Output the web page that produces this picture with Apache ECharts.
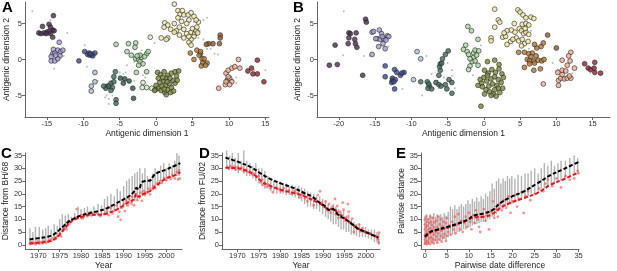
<!DOCTYPE html>
<html>
<head>
<meta charset="utf-8">
<script src="https://cdn.jsdelivr.net/npm/echarts@6/dist/echarts.min.js"></script>
<style>
  html, body { margin: 0; padding: 0; background: #fff; }
  #main { width: 617px; height: 271px; }
</style>
</head>
<body>
<div id="main"></div>
<script>
// antigenic maps (A, B): one array per cluster
var aHK68 = [[-14.1,6.1],[-15.6,4.6],[-14.7,4.9],[-14.5,4.5],[-16.1,3.7],[-15.8,3.6],[-15.4,3.7],[-15,3.8],[-14.2,4.1],[-14,4],[-14.5,3.6],[-14.2,3.1],[-14.7,3.9],[-15.1,3.6]];
var aEN72 = [[-13.3,2.4],[-14.1,1.4],[-13.5,1.3],[-13.1,1.1],[-14.2,0.8],[-13.9,0.9],[-14.4,0.4],[-13.2,0.5],[-14.4,-0.2],[-13.9,-0.2],[-13.5,0.1],[-12.8,1.3],[-13.8,0.6]];
var aVI75 = [[-10.6,-0.2],[-9.8,1.1],[-9.4,0.7],[-9.1,0.6],[-8.8,0.7],[-8.4,0.9],[-9.2,0.9],[-8.7,0.5],[-9,0.8]];
var aTX77 = [[-8.4,-1.8],[-8.9,-3.7],[-8.9,-4.4],[-8.4,-3.1]];
var aBK79 = [[-6.7,-3.7],[-6.9,-4],[-6.2,-3.3],[-5.8,-3.1],[-5.6,-1.7],[-5.8,-2.4],[-6,-3.9],[-6.2,-4.3],[-5.5,-5.6],[-5.5,-6.1],[-6.5,-3.7],[-7.2,-3.7]];
var aSI87 = [[-4.9,-2.6],[-4.3,-2.7],[-3.7,-3],[-3.1,-5.4],[-3.2,-4],[-4.5,-3.3]];
var aBE89 = [[-5.5,2.1],[-3.8,2.2],[-2.8,2.3],[-2.9,1.7],[-4,1.1],[-3.4,0.6],[-2.8,0.1],[-2.4,0],[-2,0.3],[-1.3,0.8],[-1.1,1.1],[-2.2,-0.3],[-1.8,-0.6],[-2.4,-0.8],[-1.3,-1.7],[-2.7,-1.8],[-2.2,0.6],[-2.6,0.5],[-1.6,0.4]];
var aBE92 = [[-1.8,-3.2],[-1.3,-3.9],[-1.9,-3.9],[-0.6,-4],[-0.8,3.1]];
var aWU95 = [[0.2,-1.8],[0.6,-2.1],[1.1,-1.7],[1.6,-2.2],[2.1,-1.9],[2.6,-1.7],[3.1,-1.6],[1.4,-2.6],[1,-3],[0.5,-3.2],[0,-3.6],[0.3,-4],[0.7,-4.3],[1.2,-4.6],[1.6,-4.2],[2.1,-3.9],[2.6,-3.3],[2.3,-2.9],[2.8,-2.3],[1.8,-3.4],[1.3,-3.6],[0.8,-3.7],[-0.1,-4.2],[-0.2,-4.3],[1.4,-4.9],[2,-4.6],[2.4,-4.4],[1.9,-2.6],[0.9,-2.5],[1.5,-3.1],[0.3,-2.6],[2.9,-2.9],[1.1,-4.1]];
var aSY97 = [[2.5,7.7],[3,6.8],[3.3,6.3],[3.6,6.8],[3.8,6.2],[4.4,6.2],[4.8,6.5],[5.2,6],[4.5,5.5],[3.5,5.3],[2.5,5],[1.2,5.1],[1.1,4.5],[1.6,4.8],[2,4.2],[2.8,4],[3.2,4.5],[3.8,4.2],[4.2,3.6],[4.8,3.8],[5,4.3],[5.3,3.6],[5.5,4],[5.7,3.7],[5.2,3.2],[4.8,2.8],[4.5,2.4],[4.8,2],[3.8,3],[3.2,3.4],[1.6,3],[0.7,3],[1.4,2.8],[2.5,3.8],[4.5,3.2],[5.6,4.5],[5.8,5.2],[5.5,5.5],[4.2,5],[3,5.8]];
var aFU02 = [[4.7,0.9],[5.6,1.3],[6.1,0.8],[6.3,0.1],[5.9,0.6],[6.4,-0.5],[6.2,-0.9],[7,-0.5],[5.2,0],[6.6,0.1],[6.1,1.1],[6.8,-0.8]];
var aBRN = [[8.8,3.4],[8.8,3],[7.8,2.2],[7.2,2.2],[8.7,2.2],[6.9,2.1]];
var aSAL = [[8.6,-4],[9.5,-3.5],[9.8,-2.8],[9.6,-1.9],[9.9,-1.5],[10.4,-1.2],[10.8,-1],[11.3,0],[11.5,-1.2],[10.1,-2.6],[10.4,-3.1],[9.9,-2.4],[9.6,-3.1],[10.1,-3.5]];
var aRED = [[13.9,-0.1],[13.1,-1.2],[12.6,-1.6],[13.3,-2],[13.9,-2],[14.8,-3.1]];
var aGREY = [[-17,6.7],[-14.5,5.5],[-12.2,3.7],[-13,0.7],[-12.7,0.5],[-14,-1.3],[-9.8,2],[-9.5,-1],[-8,-3],[-6.8,-5],[-7,-5.3],[-6.5,-5.5],[-6.5,-6.2],[-6,-5],[-4.5,-2],[-4.2,-1.8],[-3,-3],[-1.5,-2.5],[0.5,-3],[2,-2.8],[-0.2,2.3],[-2,1.3],[-3,-0.3],[5.2,5.2],[5.5,5.4],[6.5,5.5],[7,5.8],[6,4],[5.8,3],[6.5,2.8],[7.5,1.5],[8,0.8],[8.5,0.7],[7,1.5],[10.5,-2.8],[11,-2.5],[11,-3.3],[13.5,-1.5],[15,-1.5],[-5,-1.8],[-4,-0.8],[-1.8,-2.2]];

var bHK68 = [[-21.3,-0.8],[-20.2,-0.7],[-20.5,2],[-18.6,3.7],[-18.4,3.6],[-17.6,3.7],[-18.7,2.2],[-17.7,2.2],[-17.5,1.7],[-18.6,3],[-17.8,2.8],[-16.3,5.6],[-16.2,5.2],[-16.7,-2.2]];
var bEN72 = [[-15.4,3.8],[-15.2,3.9],[-14.4,4.1],[-14.1,3.6],[-14.7,2.9],[-14.3,2.8],[-13.8,2.9],[-13.3,3.3],[-13.1,3.2],[-13.5,2.7],[-13.9,2.2],[-14.5,1.8],[-13.6,1.5],[-15.4,0.7],[-14.9,2.9],[-14,3.2]];
var bVI75 = [[-13.6,-0.9],[-13.6,-2.4],[-12.6,-2.6],[-12.3,-1.4],[-11.5,-2.2],[-11,-1.8],[-11.3,-1.9],[-12.6,-2.9],[-12.2,-2.8],[-12.7,-3.2],[-12.3,-4.1],[-12,-1.8],[-12.4,-3.1]];
var bTX77 = [[-9.7,-2.8],[-9.2,1.1],[-8.7,0.1]];
var bBK79 = [[-8.7,-3.1],[-7.8,-3.1],[-7.5,-3.7],[-7.2,-4.1],[-7.7,-4],[-7.6,-3.4],[-6.6,-3.2],[-6.2,-3.5],[-6,-1.5],[-6.1,-1],[-6,-0.6],[-5.8,-0.5],[-5.7,0.1],[-5.3,0.7],[-4.9,1.2],[-6.2,-2.2],[-5.3,-3.5],[-5.1,-4.1],[-4.4,-4.7],[-4.4,-3.2],[-4.8,-2.8],[-5.9,-3.7]];
var bBE89 = [[-2.2,4.6],[-1.7,4],[-2.8,1.4],[-2.3,1.1],[-2.1,0.7],[-1.4,0.9],[-1.2,1.3],[-0.7,1.2],[-0.8,2.8],[-1.4,0.3],[-1.6,-0.3],[-1.2,-0.2],[-1.9,-0.9],[-2.1,-1.4],[-1,0.6],[-1.9,0.1],[-2.5,2],[-0.8,-0.8]];
var bWU95 = [[0.1,-1.5],[0.6,-1.9],[1.1,-1.4],[1.6,-1.8],[2.1,-1.3],[2.5,-2],[0,-2.5],[-0.5,-2.8],[-0.3,-3.3],[0.4,-3],[1,-2.7],[1.5,-2.4],[2,-2.8],[2.4,-3.2],[-0.2,-3.8],[0.3,-4.2],[0.8,-4.5],[1.3,-4.8],[1.7,-5.1],[2.2,-4.6],[2.6,-4],[1.8,-3.6],[1.2,-3.4],[0.7,-3.7],[0.1,-4.8],[1,-5],[2,-4],[1.5,-4.2],[0.5,-2.2],[-0.4,-6.5],[0.5,-0.3],[1.5,-0.1],[2.1,-0.7],[-0.8,-3.6],[2.7,-2.5]];
var bSY97 = [[1.5,7],[2,5.5],[2.2,5.2],[1.5,4.5],[1,3],[1,2.6],[2.6,3.1],[3,3.2],[3.2,4],[3.8,4.1],[4.2,5],[4.7,6.9],[5,6.6],[5.4,6.2],[5.8,5.8],[6.5,5.9],[6.9,5.7],[5.3,4.9],[5.8,5],[6.2,4.8],[4.9,4.3],[5.2,4],[5.5,3.6],[5.8,3.8],[6.2,3.5],[4.5,3],[4.8,2.6],[5.3,2.8],[5.6,2.2],[5.2,1.9],[3.7,2.5],[3.2,2.1],[6.1,2.5],[4.3,3.8],[5.7,4.3],[2.8,3.7],[4,2.8]];
var bFU02 = [[4.8,1],[5.6,1],[6.2,0.8],[6.7,0.9],[7.2,0.5],[6.5,0.4],[6,0],[6.3,-0.2],[6.9,-0.2],[7.5,-0.1],[8,-0.2],[8.3,0],[7,-0.5],[5.6,-1.1],[6.3,-0.6],[7.9,1.8],[8.2,2.3],[7.3,1.6],[7,2.1],[7.8,-1.3],[6.9,-1.5]];
var bBRN = [[8.8,3.4],[10,1.6]];
var bSAL = [[12,1],[10.8,-0.1],[11.7,0.5],[11.5,-0.8],[12.5,-1.2],[10.8,-1.5],[11.3,-1.6],[10.2,-1.8],[10.3,-2.9],[10.6,-2.6],[11.1,-2.7],[11.5,-2.6],[12,-2.6],[11.8,-2.3],[10.8,-2.1],[10.3,-3.6],[8.2,-3.4],[11.9,-0.2]];
var bRED = [[13.9,-0.6],[14.4,-1.2],[14.7,-1.4],[15.2,-1.2],[15.3,-0.4],[16.1,-1.9],[15.3,-1.8]];
var bGREY = [[-19.3,6.7],[-19.4,0.6],[-16.5,0.5],[-15.7,0.5],[-13.2,1.8],[-11.2,-4.1],[-7.9,0.5],[-7.2,-2],[-6.4,-3],[-6.9,-4],[-8.5,-5],[-6.2,-4],[-5.5,-2.5],[-4.4,-1.5],[-4.4,-2.3],[-5,-0.5],[-4,-4],[-1.5,-2.2],[-0.4,2],[-0.6,-2.5],[3,3],[6,4.2],[6.5,4],[6.2,1.5],[7.5,0.5],[10,-1.6],[10.2,-1.4],[11.5,-2.3],[12.2,-1.9],[14.7,-1.8],[9.5,-0.5]];

// tick labels
var ticksA = [-15, -10, -5, 0, 5, 10, 15];
var ticksB = [-20, -15, -10, -5, 0, 5, 10, 15];
var ticksMapY = [-5, 0, 5];
var ticksYear = [1970, 1975, 1980, 1985, 1990, 1995, 2000];
var ticksDist = [0, 5, 10, 15, 20, 25, 30, 35];
var ticksDiff = [0, 5, 10, 15, 20, 25, 30, 35];

// C: distance from BH/68
var cBlack = [[1967.9,2.1],[1970,2.6],[1972,3.1],[1973,3.6],[1974,4.5],[1975,6],[1976,7.5],[1977,9],[1978,10],[1980,11.5],[1982,12.4],[1984,13.2],[1986,14.3],[1988,16],[1990,17.8],[1991.5,19.3],[1992.5,21],[1993,22.3],[1993.5,21.8],[1994.3,24.5],[1995,25],[1996.3,25.3],[1997,27],[1998,28.3],[2000,29.5],[2002,31],[2003.3,32]];
var cRed = [[1967.9,0.5],[1970,0.8],[1972,1.2],[1973,1.5],[1974,2.5],[1975,4],[1976,6],[1977,8],[1978,9.5],[1979,10.3],[1980,10.8],[1982,11.8],[1984,11.8],[1986,12.2],[1987,12.8],[1988.5,13.9],[1990,15.5],[1991,16.6],[1992.4,17.8],[1993,20],[1993.5,18.8],[1994.5,19.8],[1996.3,21.2],[1997.8,23.4],[2000,26],[2002,27.2],[2003.3,28.5]];
var cBars = [[1968,0.5,6.5],[1968.7,1,5],[1969.3,0.8,7],[1970.2,0.5,7],[1971,1,6],[1971.7,1.2,6.5],[1972.3,1.5,7.5],[1973,2,6],[1973.7,2.5,8],[1974.4,3,7.5],[1975,4,10],[1975.6,5,12],[1976.3,6,11.5],[1977,8,12],[1977.7,9,11],[1978.5,9.5,12.5],[1979.3,10,15],[1980,10,14],[1980.8,10.5,14.5],[1981.5,11,15],[1982.3,11,13.5],[1983,11.5,15],[1984,11.5,16],[1984.8,11.5,15.5],[1985.5,12,18],[1986.2,12,19],[1987,12.5,20],[1987.8,13,19],[1988.5,13.5,22],[1989.2,14,21],[1990,14.5,23],[1990.7,15,25],[1991.3,16,26],[1992,16.5,27],[1992.6,17,28],[1993.2,18,28.5],[1993.8,18,30],[1994.4,19,28],[1995,20,30],[1995.6,20,27],[1996.2,21,26],[1996.8,22,28],[1997.4,23,30],[1998,24,29],[1998.7,25,31],[1999.4,25,32],[2000,25,30],[2000.7,26,32],[2001.4,26,31],[2002,27,33],[2002.5,27,36],[2003,27,35]];
var cPts = [[1968,0.3],[1968.3,1],[1968.6,0.5],[1969,0.8],[1969.3,0.2],[1969.8,1.3],[1970.2,0.4],[1970.6,1],[1971,0.6],[1971.4,1.5],[1971.8,0.8],[1972.3,1.2],[1972.7,2],[1973,1.6],[1973.5,2.6],[1974,2.2],[1974.3,3.1],[1974.7,3.5],[1975,4.5],[1975.3,3.3],[1975.7,5.5],[1976,6.4],[1976.3,7.8],[1976.6,6],[1977,9.2],[1977.2,8],[1977.6,8.8],[1978,9.8],[1978.7,10.6],[1979,14],[1979.3,11],[1980,11.5],[1980.4,10.3],[1981,12.2],[1981.5,11.2],[1982,12.6],[1982.6,11.6],[1983.2,11.9],[1983.8,12.5],[1984.5,11.2],[1985.5,12],[1986,13],[1986.5,11.6],[1987,14.6],[1987.4,12.3],[1988,13.5],[1988.3,15.4],[1988.7,11],[1989,13],[1989.3,9.8],[1989.6,14.5],[1990,16],[1990.3,13.2],[1990.6,17.2],[1991,15.5],[1991.3,18],[1991.8,16.2],[1992,18.8],[1992.4,15.5],[1992.8,19.5],[1993,22],[1993.2,17.5],[1993.6,19],[1994,20.4],[1994.3,17.2],[1994.7,21],[1995,19.5],[1995.4,20.5],[1995.8,22],[1996.2,19.8],[1996.6,21.7],[1997,23],[1997.4,22.2],[1997.8,24],[1998.2,23.5],[1998.6,25],[1999,24.2],[1999.5,26],[2000,25.3],[2000.5,26.5],[2001,25.8],[2001.5,27.4],[2002,26],[2002.5,28.5],[2002.8,25.6],[2003,29.2],[2003.2,26]];

// D: distance from FU/02
var dBlack = [[1967.2,34.2],[1970.2,32.5],[1973.3,30.3],[1975.6,27.8],[1977.2,26.2],[1980.3,24],[1983.4,22.1],[1985.7,20.2],[1987.3,19],[1989.3,16.4],[1990.4,15.2],[1991.6,13.5],[1992.4,14],[1992.8,13.3],[1993.5,11.8],[1995.1,10.1],[1996.7,8.2],[1998.2,6.3],[1999.8,5.1],[2001.3,4],[2002.9,2.8]];
var dRed = [[1967.2,30.2],[1970.2,30],[1971.7,29.3],[1974.1,27.2],[1975.6,24.9],[1977.2,23.4],[1980.3,21.5],[1983.4,20.2],[1985.7,19],[1988.1,17.1],[1989.6,15.8],[1991.6,13.9],[1992.4,14.2],[1993.5,12.3],[1995.1,10.4],[1996.7,8.2],[1998.2,6.3],[1999.8,5.1],[2002.9,2.8]];
var dBars = [[1967.5,31,37],[1968.2,30,35],[1968.8,30,36],[1969.5,29,34],[1970.2,28,36],[1970.9,29,33],[1971.5,28,37],[1972.2,27,33],[1972.9,27,32],[1973.6,26,31],[1974.3,25,32],[1975,24,30],[1975.7,23,30],[1976.4,22,29],[1977.1,22,27],[1977.8,21,26],[1978.5,21,25],[1979.2,20,25],[1980,20,24],[1980.7,20,23.5],[1981.4,19.5,24],[1982.1,19.5,23],[1982.8,19,23.5],[1983.5,18.5,23],[1984.3,18,23],[1985,17,22.5],[1985.7,16,22],[1986.4,15,21],[1987.1,15,20.5],[1987.8,14,20],[1988.5,14,19],[1989.2,13,19],[1989.9,12,18],[1990.6,11,17],[1991.2,10,16],[1991.8,9,15],[1992.4,8,16],[1993,8,15],[1993.6,7,14],[1994.2,6,13],[1994.8,6,13.5],[1995.4,5,11],[1996,5,12],[1996.6,4,10],[1997.2,4,9],[1997.8,3.5,8],[1998.5,3,8],[1999.2,3,7],[1999.9,3,7],[2000.6,2.5,6],[2001.3,2,6],[2002,1,6],[2002.6,1,5],[2003,0,4.5]];
var dPts = [[1967.6,30.5],[1968,29.8],[1968.4,30.8],[1968.8,30],[1969.2,30.6],[1969.6,29.5],[1970,30.4],[1970.5,29.6],[1971,30.2],[1971.5,28.8],[1972,29.5],[1972.5,28.5],[1973,28.7],[1973.5,27.6],[1974,28],[1974.5,26.5],[1975,27],[1975.4,24.5],[1975.8,25.5],[1976,23.5],[1976.4,24.3],[1976.8,22.8],[1977.2,23.6],[1977.7,22.2],[1978.3,20.6],[1979,22.3],[1979.6,21.8],[1980.2,21],[1980.8,22.2],[1981.4,20.8],[1982,21.3],[1982.6,20],[1983.3,21],[1984,20.3],[1984.6,18.6],[1985.2,19.8],[1985.8,18.2],[1986.3,17],[1986.8,19.2],[1987.3,17.8],[1987.8,15.5],[1988.3,18],[1988.8,19.5],[1989.3,21],[1989.7,16.5],[1990.2,14.8],[1990.6,17],[1991,13.5],[1991.4,16],[1991.8,12.6],[1992.2,15],[1992.6,13.5],[1993,12],[1993.3,15.2],[1993.6,10.5],[1994,13],[1994.4,11.5],[1994.8,13.8],[1995.2,9.5],[1995.6,11],[1996,13],[1996.4,8.8],[1996.8,10.2],[1997.2,5],[1997.6,7.5],[1998,6.2],[1998.4,8],[1998.8,5.3],[1999.2,6.5],[1999.7,5],[2000.3,4.6],[2001,4.5],[2001.6,3.8],[2002.2,3.5],[2002.8,2.2],[2003,0.8],[2003.1,4.8],[1992.8,18],[1994.6,16.5],[1995.8,16]];

// E: pairwise distance vs pairwise date difference
var eBlack = [[0,3.2],[1.2,5.1],[2.7,5.9],[5,7],[7.3,8.2],[9.6,9.7],[11.1,11.4],[13.4,12.3],[15.3,13.5],[17.2,16.4],[19.4,18.6],[22.5,20.9],[25.5,24],[28.5,27.2],[31.6,29.7],[35,32.5]];
var eRed = [[0,3],[1.2,4.7],[2.7,5.7],[5,6.6],[7.3,8],[9.6,9.7],[11.1,10.7],[13.4,11],[15.3,12],[17.2,14.5],[19.4,16.4],[22.5,18.3],[25.5,20.2],[28.5,23.4],[31.6,25.7],[35,28.4]];
var eBars = [[0,0,11],[0.4,0.5,12],[0.8,0,10.5],[1.2,1,12],[1.6,0.5,11],[2,1,12.5],[2.4,1.5,11],[2.8,1,12],[3.2,2,11.5],[3.6,1.5,12],[4,2,11],[4.4,2.5,12.5],[4.8,2,11.5],[5.3,3,13],[5.8,3.5,15],[6.3,4,14],[6.8,4,15.5],[7.3,5,14],[7.8,5,15],[8.3,5.5,16],[8.8,6,15],[9.3,6,16],[9.8,7,17.5],[10.3,7,16],[10.8,7.5,18],[11.3,8,17],[11.8,8,18.5],[12.3,8.5,17],[12.8,9,19],[13.3,9,18],[13.8,9,20],[14.3,10,19],[14.8,10,21],[15.3,11,24],[15.8,11,22],[16.3,12,25],[16.8,13,26],[17.3,14,24],[17.8,14,26],[18.3,15,25],[18.8,15,27],[19.3,16,26],[19.8,16,27],[20.5,17,26],[21.2,17,27.5],[22,18,27],[22.8,18,28],[23.5,19,28],[24.2,20,29],[25,20,30],[25.8,21,28],[26.5,22,30],[27.2,22,32],[28,23,31],[28.8,24,33],[29.5,24,31],[30.3,25,32],[31,25,33],[32,26,33],[33,27,34],[34,28,35],[34.8,28,34]];
var ePts = [[0,0.5],[0,2],[0,4],[0,6],[0,8],[0,10],[0.2,1],[0.2,3],[0.2,7],[0.2,11],[0.4,0.2],[0.4,5],[0.4,9],[0.6,1.5],[0.6,3.5],[0.6,7.5],[0.8,0.8],[0.8,6],[0.8,10],[1,2.5],[1,4.5],[1,8.5],[1.2,0.3],[1.2,6.5],[1.2,11],[1.4,3],[1.4,9],[1.6,1.2],[1.6,5.5],[1.6,7.8],[1.8,2.2],[1.8,10.5],[2,0.5],[2,4],[2,6.8],[2.2,8.8],[2.4,1.8],[2.4,5],[2.6,3.2],[2.6,9.5],[2.8,0.8],[2.8,7],[3,4.5],[3,11],[3.2,2],[3.2,6],[3.4,8],[3.6,3.5],[3.6,10],[3.8,1.2],[3.8,5.5],[4,7.2],[4.2,2.8],[4.2,9],[4.4,4.2],[4.6,6.5],[4.8,1.5],[4.8,8.5],[5,3.5],[5,10.5],[5.3,5],[5.6,7.5],[5.9,4],[6.2,9],[6.5,6],[6.8,11],[7,4.5],[7.3,8],[7.6,12],[8,6],[8.3,9.5],[8.6,5],[9,8.5],[9.3,11],[9.6,7],[10,12.5],[10.3,9],[10.6,6],[11,11.5],[11.3,8.5],[11.6,13.5],[12,10],[12.3,7],[12.6,5],[13,11],[13.4,14],[13.8,9.5],[14.2,11.5],[14.6,6],[15,13],[15.5,17],[15.8,10.5],[16.2,14],[16.6,11],[17,16],[17.5,13.5],[18,17.5],[18.5,14.5],[19,19],[19.5,12.5],[20,17],[20.5,19.5],[21,15],[21.5,18],[22,20.5],[22.5,12.5],[23,19],[23.5,21],[24,17.5],[25,20],[26,22],[27,21],[27.5,24],[28,25.5],[29,23],[30,26],[31,22.5],[32,27],[33,25.5],[34,26],[34.8,29],[35,28]];

var FONT = 'Liberation Sans, Arial, sans-serif';
var chart = echarts.init(document.getElementById('main'), null, { renderer: 'canvas' });

// axis helper, plain labels (no thousands comma on years)
function ax(g, min, max, ticks, name, gap) {
    return {
        gridIndex: g, type: 'value', min: min, max: max,
        name: name, nameLocation: 'middle', nameGap: gap,
        nameTextStyle: { fontSize: 8.5, color: '#222', fontFamily: FONT },
        axisLine: { onZero: false, lineStyle: { color: '#666', width: 1 } },
        axisTick: { customValues: ticks, length: 3, lineStyle: { color: '#666' } },
        axisLabel: {
            customValues: ticks, fontSize: 7.5, color: '#333', margin: 3, fontFamily: FONT,
            formatter: function (v) { return String(v); }
        },
        splitLine: { show: false }
    };
}

// cluster scatter on map grids
function cluster(idx, data, color) {
    return {
        type: 'scatter', xAxisIndex: idx, yAxisIndex: idx, data: data,
        symbolSize: 4.8, z: 3,
        itemStyle: { color: color, borderColor: '#2b2b2b', borderWidth: 0.8 }
    };
}
function greyDots(idx, data) {
    return {
        type: 'scatter', xAxisIndex: idx, yAxisIndex: idx, data: data,
        symbolSize: 2, z: 2, itemStyle: { color: '#aaaaaa' }
    };
}
function bars(idx, data) {
    return {
        type: 'custom', xAxisIndex: idx, yAxisIndex: idx, data: data, z: 1,
        encode: { x: 0, y: [1, 2] },
        renderItem: function (params, api) {
            var p1 = api.coord([api.value(0), api.value(1)]);
            var p2 = api.coord([api.value(0), api.value(2)]);
            return {
                type: 'line',
                shape: { x1: p1[0], y1: p1[1], x2: p2[0], y2: p2[1] },
                style: { stroke: '#b3b3b3', lineWidth: 1.4 }
            };
        }
    };
}
function redPts(idx, data) {
    return {
        type: 'scatter', xAxisIndex: idx, yAxisIndex: idx, data: data,
        symbolSize: 2.8, z: 2, itemStyle: { color: 'rgba(255,70,70,0.75)' }
    };
}
function dashLine(idx, data, color) {
    return {
        type: 'line', xAxisIndex: idx, yAxisIndex: idx, data: data,
        smooth: 0.4, showSymbol: false, symbol: 'none', z: 4,
        lineStyle: { color: color, width: 2, type: [4, 2] }
    };
}

var colors = {
    hk68: '#4a2a4f', en72: '#a39bd6', vi75: '#3a4a8c', tx77: '#a5bfd9',
    bk79: '#3f6a5a', si87: '#2f5147', be89: '#a8d8a0', be92: '#d3eac4',
    wu95: '#7a8a38', sy97: '#f2e6a4', fu02: '#b5772f', brn: '#8a5a2c',
    sal: '#f2aa92', red: '#8a2430'
};

var option = {
    animation: false,
    backgroundColor: '#ffffff',
    textStyle: { fontFamily: FONT },
    grid: [
        { left: 25, top: 2, width: 244, height: 115 },
        { left: 317, top: 2, width: 293, height: 115 },
        { left: 24, top: 153, width: 158, height: 100 },
        { left: 222, top: 153, width: 158, height: 100 },
        { left: 421, top: 153, width: 158, height: 100 }
    ],
    xAxis: [
        ax(0, -18, 15.5, ticksA, 'Antigenic dimension 1', 11),
        ax(1, -23, 17.4, ticksB, 'Antigenic dimension 1', 11),
        ax(2, 1966.9, 2003.7, ticksYear, 'Year', 9),
        ax(3, 1966.4, 2003.3, ticksYear, 'Year', 9),
        ax(4, -0.9, 35.1, ticksDiff, 'Pairwise date difference', 9)
    ],
    yAxis: [
        ax(0, -8, 8, ticksMapY, 'Antigenic dimension 2', 14),
        ax(1, -8, 8, ticksMapY, 'Antigenic dimension 2', 15),
        ax(2, -1.7, 36, ticksDist, 'Distance from BH/68', 14),
        ax(3, -1.7, 36, ticksDist, 'Distance from FU/02', 14),
        ax(4, -1.7, 36, ticksDist, 'Pairwise distance', 15)
    ],
    graphic: [
        { type: 'text', left: 2, top: 0, style: { text: 'A', font: 'bold 15px ' + FONT, fill: '#000' } },
        { type: 'text', left: 293, top: 0, style: { text: 'B', font: 'bold 15px ' + FONT, fill: '#000' } },
        { type: 'text', left: 1, top: 146, style: { text: 'C', font: 'bold 15px ' + FONT, fill: '#000' } },
        { type: 'text', left: 199, top: 146, style: { text: 'D', font: 'bold 15px ' + FONT, fill: '#000' } },
        { type: 'text', left: 396, top: 146, style: { text: 'E', font: 'bold 15px ' + FONT, fill: '#000' } }
    ],
    series: [
        greyDots(0, aGREY),
        cluster(0, aHK68, colors.hk68), cluster(0, aEN72, colors.en72), cluster(0, aVI75, colors.vi75),
        cluster(0, aTX77, colors.tx77), cluster(0, aBK79, colors.bk79), cluster(0, aSI87, colors.si87),
        cluster(0, aBE89, colors.be89), cluster(0, aBE92, colors.be92), cluster(0, aWU95, colors.wu95),
        cluster(0, aSY97, colors.sy97), cluster(0, aFU02, colors.fu02), cluster(0, aBRN, colors.brn),
        cluster(0, aSAL, colors.sal), cluster(0, aRED, colors.red),

        greyDots(1, bGREY),
        cluster(1, bHK68, colors.hk68), cluster(1, bEN72, colors.en72), cluster(1, bVI75, colors.vi75),
        cluster(1, bTX77, colors.tx77), cluster(1, bBK79, colors.bk79), cluster(1, bBE89, colors.be89),
        cluster(1, bWU95, colors.wu95), cluster(1, bSY97, colors.sy97), cluster(1, bFU02, colors.fu02),
        cluster(1, bBRN, colors.brn), cluster(1, bSAL, colors.sal), cluster(1, bRED, colors.red),

        bars(2, cBars), redPts(2, cPts), dashLine(2, cRed, '#e3161d'), dashLine(2, cBlack, '#000000'),
        bars(3, dBars), redPts(3, dPts), dashLine(3, dRed, '#e3161d'), dashLine(3, dBlack, '#000000'),
        bars(4, eBars), redPts(4, ePts), dashLine(4, eRed, '#e3161d'), dashLine(4, eBlack, '#000000')
    ]
};
chart.setOption(option);
</script>
</body>
</html>
